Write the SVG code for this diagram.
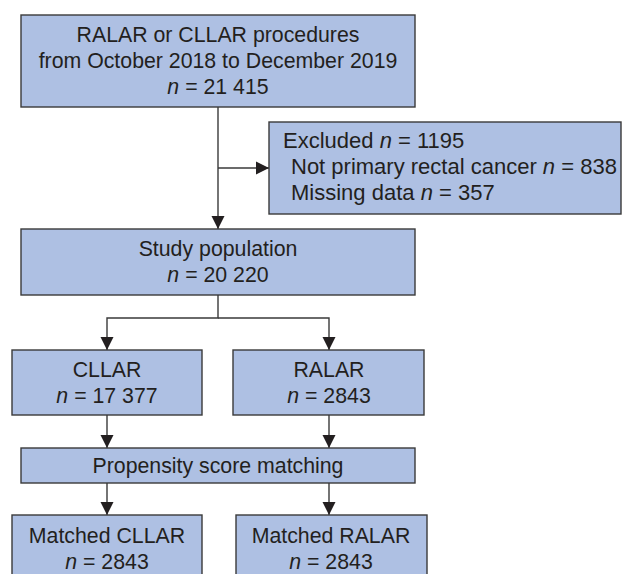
<svg xmlns="http://www.w3.org/2000/svg" width="624" height="574" viewBox="0 0 624 574">
<defs>
<style>
.box{fill:#aec0e3;stroke:#3a3a3a;stroke-width:1.4}
.t{font-family:"Liberation Sans",Arial,sans-serif;font-size:21.3px;fill:#231f20}
.x{font-size:22px}
.c{text-anchor:middle}
.i{font-style:italic}
.ln{fill:none;stroke:#3a3a3a;stroke-width:1.4}
</style>
<marker id="ah" markerUnits="userSpaceOnUse" markerWidth="14" markerHeight="14" viewBox="0 0 14 14" refX="13" refY="7" orient="auto">
<path d="M0,0.5 L13,7 L0,13.5 Z" fill="#231f20"/>
</marker>
</defs>
<rect width="624" height="574" fill="#ffffff"/>
<g id="connectors">
<line class="ln" x1="218" y1="107" x2="218" y2="229" marker-end="url(#ah)"/>
<line class="ln" x1="218" y1="168" x2="269" y2="168" marker-end="url(#ah)"/>
<polyline class="ln" points="218,295 218,318 107,318 107,350" marker-end="url(#ah)"/>
<polyline class="ln" points="218,318 329,318 329,350" marker-end="url(#ah)"/>
<line class="ln" x1="107" y1="415" x2="107" y2="448" marker-end="url(#ah)"/>
<line class="ln" x1="329" y1="415" x2="329" y2="448" marker-end="url(#ah)"/>
<line class="ln" x1="107" y1="483" x2="107" y2="515" marker-end="url(#ah)"/>
<line class="ln" x1="329" y1="483" x2="329" y2="515" marker-end="url(#ah)"/>
</g>
<g id="n-procedures">
<rect class="box" x="21" y="15" width="394" height="92"/>
<text class="t c" x="218" y="42">RALAR or CLLAR procedures</text>
<text class="t c" x="218" y="68">from October 2018 to December 2019</text>
<text class="t c" x="218" y="94"><tspan class="i">n</tspan> = 21 415</text>
</g>
<g id="n-excluded">
<rect class="box" x="269" y="122" width="352" height="92"/>
<text class="t x" x="283" y="148">Excluded <tspan class="i">n</tspan> = 1195</text>
<text class="t x" x="291" y="174">Not primary rectal cancer <tspan class="i">n</tspan> = 838</text>
<text class="t x" x="291" y="200">Missing data <tspan class="i">n</tspan> = 357</text>
</g>
<g id="n-study">
<rect class="box" x="21" y="229" width="394" height="66"/>
<text class="t c" x="218" y="256">Study population</text>
<text class="t c" x="218" y="282"><tspan class="i">n</tspan> = 20 220</text>
</g>
<g id="n-cllar">
<rect class="box" x="12" y="350" width="190" height="65"/>
<text class="t c" x="107" y="377">CLLAR</text>
<text class="t c" x="107" y="403"><tspan class="i">n</tspan> = 17 377</text>
</g>
<g id="n-ralar">
<rect class="box" x="233" y="350" width="191" height="65"/>
<text class="t c" x="329" y="377">RALAR</text>
<text class="t c" x="329" y="403"><tspan class="i">n</tspan> = 2843</text>
</g>
<g id="n-psm">
<rect class="box" x="21" y="448" width="394" height="35"/>
<text class="t c" x="218" y="473">Propensity score matching</text>
</g>
<g id="n-mcllar">
<rect class="box" x="12" y="515" width="190" height="70"/>
<text class="t c" x="107" y="543">Matched CLLAR</text>
<text class="t c" x="107" y="569"><tspan class="i">n</tspan> = 2843</text>
</g>
<g id="n-mralar">
<rect class="box" x="236" y="515" width="191" height="70"/>
<text class="t c" x="331" y="543">Matched RALAR</text>
<text class="t c" x="331" y="569"><tspan class="i">n</tspan> = 2843</text>
</g>
</svg>
